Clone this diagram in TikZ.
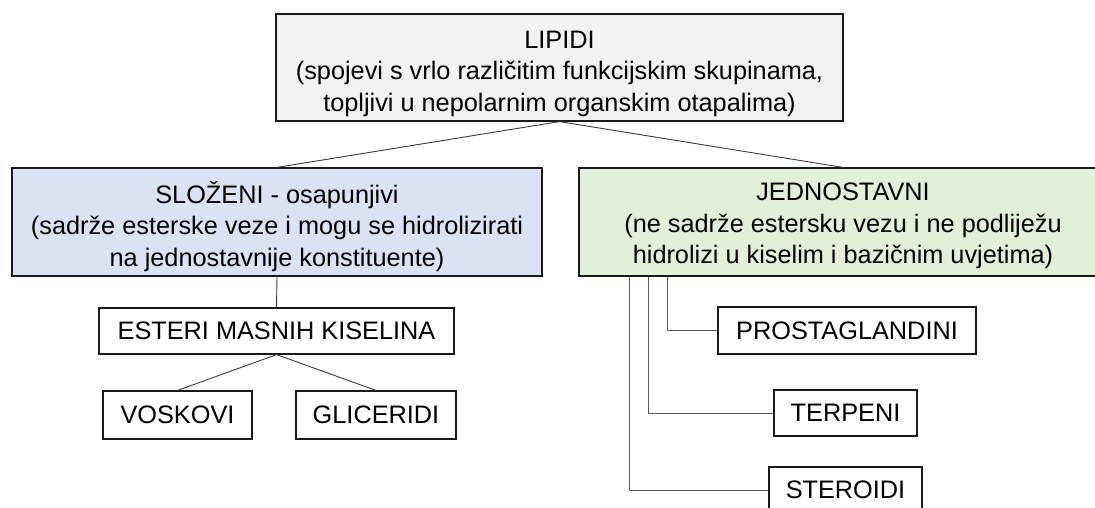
\documentclass[tikz,border=0pt]{standalone}
\usepackage{fontspec}
\setmainfont{Liberation Sans}
\definecolor{topfill}{HTML}{F2F2F2}
\definecolor{leftfill}{HTML}{DAE3F3}
\definecolor{rightfill}{HTML}{E2F0D9}
\definecolor{edge}{HTML}{1A1A1A}
\definecolor{conn}{HTML}{3A3A3A}
\definecolor{elbow}{HTML}{595959}
\begin{document}
\begin{tikzpicture}[x=1pt,y=-1pt,
  box/.style={draw=edge,line width=1.2pt,rectangle,inner sep=0pt,align=center,
    font=\fontsize{25.3}{31.5}\selectfont},
  link/.style={draw=conn,line width=0.9pt},
  elbowlink/.style={draw=elbow,line width=1pt}]
\useasboundingbox (0,0) rectangle (1095,508);
\node[box,fill=topfill,minimum width=567pt,minimum height=107pt] (lipidi) at (559.5,67.5)
  {\rule{0pt}{30pt}LIPIDI\\(spojevi s vrlo različitim funkcijskim skupinama,\\topljivi u nepolarnim organskim otapalima)};
\node[box,fill=leftfill,minimum width=530pt,minimum height=108pt] (slozeni) at (277,222)
  {\rule{0pt}{31pt}SLOŽENI - osapunjivi\\(sadrže esterske veze i mogu se hidrolizirati\\na jednostavnije konstituente)};
\node[box,fill=rightfill,minimum width=528pt,minimum height=108pt] (jedno) at (843,222)
  {\rule{0pt}{26pt}JEDNOSTAVNI\\(ne sadrže estersku vezu i ne podliježu\\hidrolizi u kiselim i bazičnim uvjetima)};
\node[box,minimum width=355pt,minimum height=46pt] (esteri) at (276.5,331) {ESTERI MASNIH KISELINA};
\node[box,minimum width=149pt,minimum height=48pt] (voskovi) at (177.5,415) {VOSKOVI};
\node[box,minimum width=160pt,minimum height=48pt] (glic) at (376,415) {GLICERIDI};
\node[box,minimum width=258pt,minimum height=47pt] (prost) at (847,330.5) {PROSTAGLANDINI};
\node[box,minimum width=143pt,minimum height=46pt] (terp) at (845.5,413) {TERPENI};
\node[box,minimum width=153pt,minimum height=46pt] (ster) at (845.5,490) {STEROIDI};
\draw[link] (lipidi.south) -- (slozeni.north);
\draw[link] (lipidi.south) -- (jedno.north);
\draw[link] (slozeni.south) -- (esteri.north);
\draw[link] (esteri.south) -- (voskovi.north);
\draw[link] (esteri.south) -- (glic.north);
\draw[elbowlink] ([xshift=51pt]jedno.south west) |- (ster.west);
\draw[elbowlink] ([xshift=70pt]jedno.south west) |- (terp.west);
\draw[elbowlink] ([xshift=89pt]jedno.south west) |- (prost.west);
\end{tikzpicture}
\end{document}
